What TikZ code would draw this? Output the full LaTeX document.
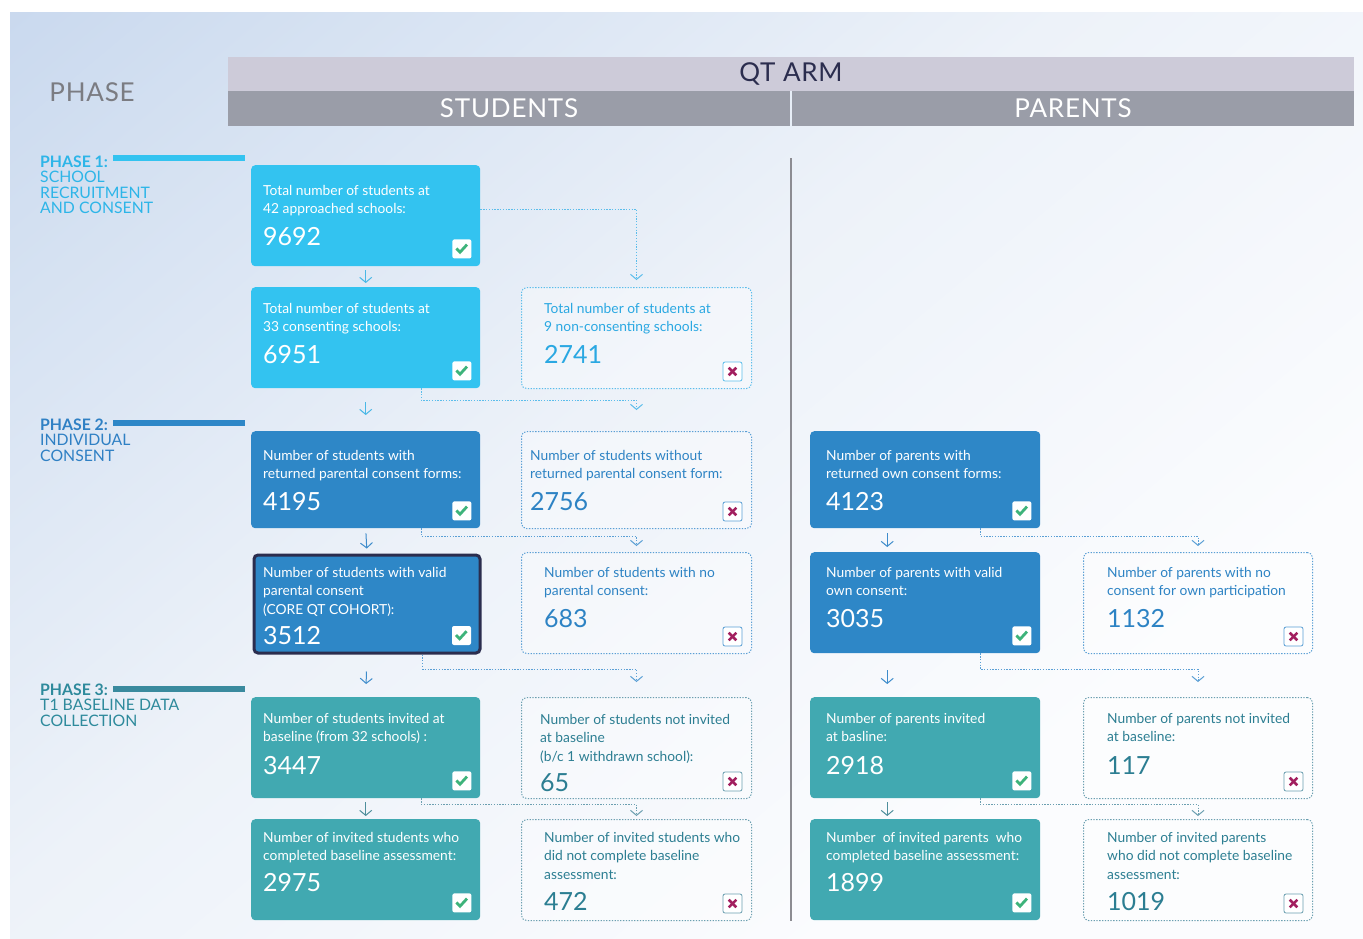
\documentclass[tikz,border=0pt]{standalone}
\usepackage{fontspec}
\setmainfont{Lato}
\usetikzlibrary{arrows.meta,calc}
\definecolor{cyanbox}{HTML}{33C3F0}
\definecolor{bluebox}{HTML}{2E87C7}
\definecolor{tealbox}{HTML}{41A9B1}
\definecolor{cyantxt}{HTML}{2AA8E2}
\definecolor{bluetxt}{HTML}{2D83C4}
\definecolor{tealtxt}{HTML}{2C7E92}
\definecolor{cyandot}{HTML}{5BBDEB}
\definecolor{bluedot}{HTML}{5A9FD5}
\definecolor{tealdot}{HTML}{6B9FB0}
\definecolor{cyanarr}{HTML}{4AB8E6}
\definecolor{bluearr}{HTML}{3E8CCB}
\definecolor{tealarr}{HTML}{4E8F9C}
\definecolor{navy}{HTML}{2B2D4E}
\definecolor{hdrlight}{HTML}{CDCBD9}
\definecolor{hdrdark}{HTML}{9A9DA8}
\definecolor{phasegray}{HTML}{7B7C82}
\definecolor{okgreen}{HTML}{3DB37A}
\definecolor{nomag}{HTML}{A21F5F}
\definecolor{divgray}{HTML}{8C8C92}
\definecolor{bgA}{HTML}{B8CCE9}
\definecolor{bgB}{HTML}{D6E2F2}
\definecolor{bgC}{HTML}{EDF2F9}
\definecolor{bgD}{HTML}{FBFCFE}
\definecolor{phase1}{HTML}{2DB5E8}
\definecolor{phase2}{HTML}{2F80C4}
\definecolor{phase3}{HTML}{2E8A9C}
\definecolor{bar3}{HTML}{3A8A9E}
\pgfdeclareverticalshading{bgshade}{100bp}{color(0bp)=(bgD); color(30bp)=(bgD); color(55bp)=(bgC); color(75bp)=(bgB); color(100bp)=(bgA)}
\newcommand\boxfont{\fontsize{13.8}{18.7}\selectfont}
\newcommand\numfont{\fontsize{25}{30}\selectfont}
\newcommand\hdrfont{\fontsize{26}{30}\selectfont\addfontfeature{LetterSpace=3}}
\newcommand\phfont{\fontsize{15.8}{15.6}\selectfont}
% #1 box, #2 colour, #3 x offset, #4 first baseline offset, #5 lines, #6 number, #7 number baseline offset
\newcommand\qtext[7]{%
  \node[boxtxt, text=#2] (#1-t) at ($(#1.north west)+(#3,-#4)$) {\parbox[t]{220pt}{\raggedright #5}};
  \node[numtxt, text=#2] (#1-n) at ($(#1.north west)+(#3,-#7)$) {#6};
}
\newcommand\qok[1]{%
  \node[okbox] (#1-c) at ($(#1.south east)+(-18.5,17.5)$) {};
  \draw[okmark] ($(#1-c)+(-5.5,0.5)$) -- ++(3.6,-3.8) -- ++(7,7.6);
}
\newcommand\qno[2]{%
  \node[nobox=#2] (#1-c) at ($(#1.south east)+(-19.5,17.5)$) {};
  \draw[nomark] ($(#1-c)+(-3.8,-3.8)$) -- ++(7.6,7.6);
  \draw[nomark] ($(#1-c)+(-3.8,3.8)$) -- ++(7.6,-7.6);
}
\begin{document}
\begin{tikzpicture}[x=1pt,y=1pt,
  solidbox/.style={rectangle, rounded corners=4pt, fill=#1, anchor=north west, inner sep=0pt},
  dashbox/.style={rectangle, rounded corners=5pt, draw=#1, line width=1pt, dash pattern=on 1.3pt off 1.5pt, fill=white, fill opacity=0.35, anchor=north west, inner sep=0pt},
  wa/.style={minimum width=229pt}, wb/.style={minimum width=230pt},
  boxtxt/.style={anchor=base west, inner sep=0pt, font=\boxfont},
  numtxt/.style={anchor=base west, inner sep=0pt, font=\numfont},
  okbox/.style={rectangle, fill=white, rounded corners=2pt, minimum size=19pt, inner sep=0pt},
  nobox/.style={okbox, draw=#1, line width=0.8pt},
  okmark/.style={okgreen, line width=2.8pt},
  nomark/.style={nomag, line width=2.5pt},
  sarr/.style={draw=#1, line width=1pt, -{Straight Barb[length=5pt,width=12pt]}},
  darr/.style={draw=#1, line width=1pt, dash pattern=on 1.3pt off 1.5pt, -{Straight Barb[length=5pt,width=12pt]}},
  hdrbar/.style={rectangle, inner sep=0pt, font=\hdrfont},
  phlabel/.style={anchor=base west, inner sep=0pt, font=\phfont}
]
\useasboundingbox (0,0) rectangle (1363,-938);
\fill[white] (0,0) rectangle (1363,-938);
\shade[shading=bgshade, shading angle=40] (10,-12) rectangle (1363,-938);

% header
\node[hdrbar, fill=hdrlight, minimum width=1126pt, minimum height=34pt, text=navy] (qtarm) at (791,-74) {\raisebox{-1pt}{QT ARM}};
\node[hdrbar, fill=hdrdark, minimum width=562pt, minimum height=35pt, text=white] (students) at (509,-108.5) {STUDENTS};
\node[hdrbar, fill=hdrdark, minimum width=562pt, minimum height=35pt, text=white] (parents) at (1073,-108.5) {PARENTS};
\node[hdrbar, text=phasegray] (phase) at (92,-92) {PHASE};

% phase labels
\fill[cyanbox] (113,-155) rectangle (245,-161);
\node[phlabel, text=phase1] (ph1) at (40,-167) {\parbox[t]{150pt}{\textbf{PHASE 1:}\\SCHOOL\\RECRUITMENT\\AND CONSENT}};
\fill[bluebox] (113,-419.5) rectangle (245,-425.5);
\node[phlabel, text=phase2] (ph2) at (40,-430) {\parbox[t]{150pt}{\textbf{PHASE 2:}\\INDIVIDUAL\\CONSENT}};
\fill[bar3] (113,-686) rectangle (245,-692);
\node[phlabel, text=phase3] (ph3) at (40,-695) {\parbox[t]{150pt}{\textbf{PHASE 3:}\\T1 BASELINE DATA\\COLLECTION}};

% divider
\draw[divgray, line width=1.2pt] (791,-158) -- (791,-921);

% students boxes
\node[solidbox=cyanbox, wa, minimum height=101pt] (s1) at (251,-165) {};
\node[solidbox=cyanbox, wa, minimum height=101pt] (s2) at (251,-287) {};
\node[dashbox=cyandot, wb, minimum height=101pt] (d2) at (521,-287) {};
\node[solidbox=bluebox, wa, minimum height=97pt] (s3) at (251,-431) {};
\node[dashbox=bluedot, wb, minimum height=97pt] (d3) at (521,-431) {};
\node[solidbox=bluebox, wa, minimum height=98pt, minimum width=226pt, draw=navy, line width=3pt] (s4) at (252.5,-553.5) {};
\node[dashbox=bluedot, wb, minimum height=101pt] (d4) at (521,-552) {};
\node[solidbox=tealbox, wa, minimum height=101pt] (s5) at (251,-697) {};
\node[dashbox=tealdot, wb, minimum height=101pt] (d5) at (521,-697) {};
\node[solidbox=tealbox, wa, minimum height=101pt] (s6) at (251,-819) {};
\node[dashbox=tealdot, wb, minimum height=101pt] (d6) at (521,-819) {};
% parents boxes
\node[solidbox=bluebox, wb, minimum height=97pt] (p3) at (810,-431) {};
\node[solidbox=bluebox, wb, minimum height=101pt] (p4) at (810,-552) {};
\node[dashbox=bluedot, wa, minimum height=101pt] (pd4) at (1083,-552) {};
\node[solidbox=tealbox, wb, minimum height=101pt] (p5) at (810,-697) {};
\node[dashbox=tealdot, wa, minimum height=101pt] (pd5) at (1083,-697) {};
\node[solidbox=tealbox, wb, minimum height=101pt] (p6) at (810,-819) {};
\node[dashbox=tealdot, wa, minimum height=101pt] (pd6) at (1083,-819) {};

% texts
\qtext{s1}{white}{12}{30}{Total number of students at\\42 approached schools:}{9692}{80}
\qtext{s2}{white}{12}{26}{Total number of students at\\33 consenting schools:}{6951}{76}
\qtext{d2}{cyantxt}{23}{26}{Total number of students at\\9 non-consenting schools:}{2741}{76}
\qtext{s3}{white}{12}{29}{Number of students with\\returned parental consent forms:}{4195}{79}
\qtext{d3}{bluetxt}{9}{29}{Number of students without\\returned parental consent form:}{2756}{79}
\qtext{s4}{white}{10.5}{23.5}{Number of students with valid\\parental consent\\(CORE QT COHORT):}{3512}{90.5}
\qtext{d4}{bluetxt}{23}{25}{Number of students with no\\parental consent:}{683}{75}
\qtext{s5}{white}{12}{26}{Number of students invited at\\baseline (from 32 schools) :}{3447}{77}
\qtext{d5}{tealtxt}{19}{27}{Number of students not invited\\at baseline\\(b/c 1 withdrawn school):}{65}{94}
\qtext{s6}{white}{12}{23}{Number of invited students who\\completed baseline assessment:}{2975}{72}
\qtext{d6}{tealtxt}{23}{23}{Number of invited students who\\did not complete baseline\\assessment:}{472}{91}
\qtext{p3}{white}{16}{29}{Number of parents with\\returned own consent forms:}{4123}{79}
\qtext{p4}{white}{16}{25}{Number of parents with valid\\own consent:}{3035}{75}
\qtext{pd4}{bluetxt}{24}{25}{Number of parents with no\\consent for own participation}{1132}{75}
\qtext{p5}{white}{16}{26}{Number of parents invited\\at basline:}{2918}{77}
\qtext{pd5}{tealtxt}{24}{26}{Number of parents not invited\\at baseline:}{117}{77}
\qtext{p6}{white}{16}{23}{Number\ \ of invited parents\ \ who\\completed baseline assessment:}{1899}{72}
\qtext{pd6}{tealtxt}{24}{23}{Number of invited parents\\who did not complete baseline\\assessment:}{1019}{91}

% marks
\qok{s1}\qok{s2}\qok{s3}\qok{s5}\qok{s6}
\node[okbox] (s4-c) at ($(s4.south east)+(-20,19)$) {};
\draw[okmark] ($(s4-c)+(-5.5,0.5)$) -- ++(3.6,-3.8) -- ++(7,7.6);
\qok{p3}\qok{p4}\qok{p5}\qok{p6}
\qno{d2}{cyandot}\qno{d3}{bluedot}\qno{d4}{bluedot}\qno{d5}{tealdot}\qno{d6}{tealdot}
\qno{pd4}{bluedot}\qno{pd5}{tealdot}\qno{pd6}{tealdot}

% solid connectors
\draw[sarr=cyanarr, shorten <=4pt, shorten >=4pt] (s1.south) -- (s2.north);
\draw[sarr=cyanarr, shorten <=14pt, shorten >=16pt] (s2.south) -- (s3.north);
\draw[sarr=bluearr, shorten <=5pt, shorten >=5pt] (s3.south) -- (s4.north);
\draw[sarr=bluearr, shorten <=17pt, shorten >=13pt] (s4.south) -- (s5.north);
\draw[sarr=tealarr, shorten <=4pt, shorten >=3pt] (s5.south) -- (s6.north);
\draw[sarr=bluearr, shorten <=5pt, shorten >=5pt] ($(p3.south)+(-38,0)$) -- ($(p4.north)+(-38,0)$);
\draw[sarr=bluearr, shorten <=17pt, shorten >=13pt] ($(p4.south)+(-38,0)$) -- ($(p5.north)+(-38,0)$);
\draw[sarr=tealarr, shorten <=4pt, shorten >=3pt] ($(p5.south)+(-38,0)$) -- ($(p6.north)+(-38,0)$);

% dotted connectors
\draw[darr=cyandot] ($(s1.east)+(0,6.5)$) -| ($(d2.north)+(0,7)$);
\draw[darr=cyandot] ($(s2.south east)+(-59,0)$) -- ++(0,-12) -| ($(d3.north)+(0,21)$);
\draw[darr=bluedot] ($(s3.south east)+(-59,0)$) -- ++(0,-8) -| ($(d4.north)+(0,6)$);
\draw[darr=bluedot] ($(s4.south east)+(-59,0)$) -- ++(0,-14.5) -| ($(d5.north)+(0,15)$);
\draw[darr=tealdot] ($(s5.south east)+(-59,0)$) -- ++(0,-6) -| ($(d6.north)+(0,3)$);
\draw[darr=bluedot] ($(p3.south east)+(-60,0)$) -- ++(0,-8) -| ($(pd4.north)+(0,6)$);
\draw[darr=bluedot] ($(p4.south east)+(-60,0)$) -- ++(0,-16) -| ($(pd5.north)+(0,15)$);
\draw[darr=tealdot] ($(p5.south east)+(-60,0)$) -- ++(0,-6) -| ($(pd6.north)+(0,3)$);
\end{tikzpicture}
\end{document}
